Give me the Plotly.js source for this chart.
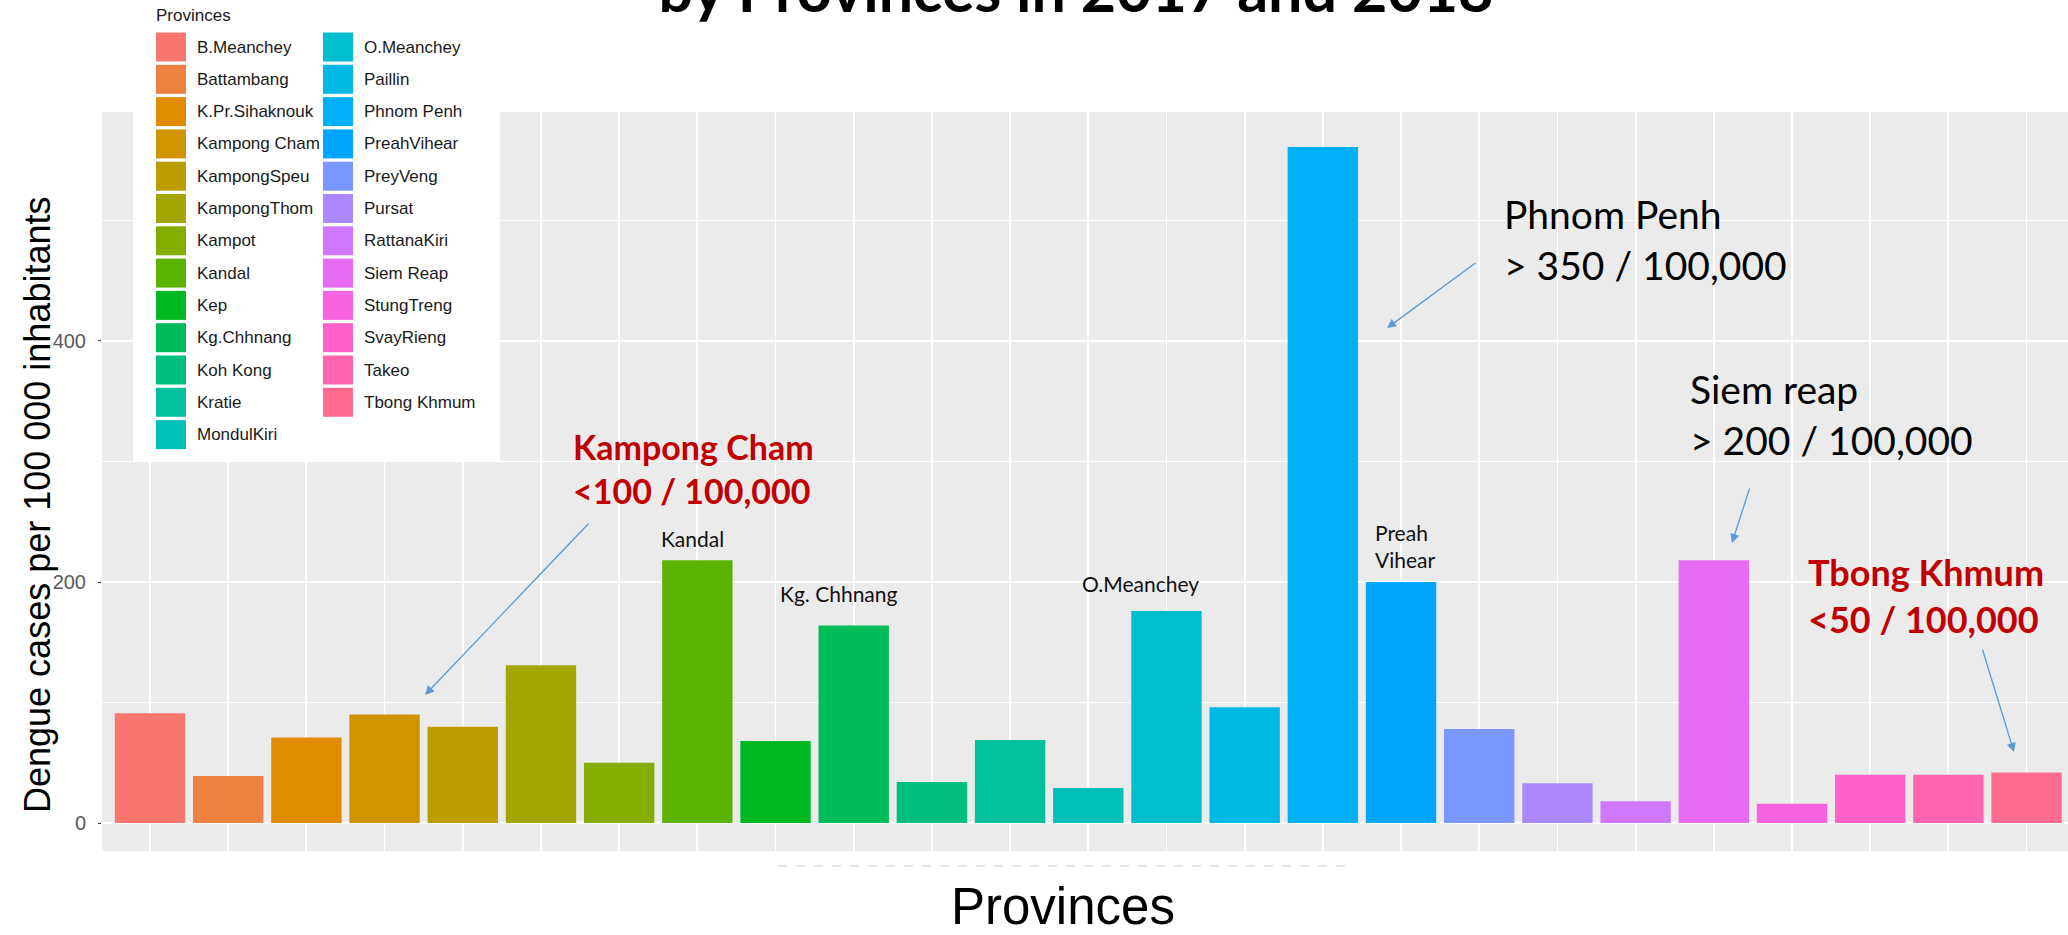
<!DOCTYPE html>
<html>
<head>
<meta charset="utf-8">
<script src="https://cdn.plot.ly/plotly-3.0.1.min.js"></script>
<style>
  html, body { margin: 0; padding: 0; background: #ffffff; }
  #chart { width: 2068px; height: 935px; }
</style>
</head>
<body>
<div id="chart"></div>
<script>
// ---------------- DATA ----------------
const provinces = [
  'B.Meanchey', 'Battambang', 'K.Pr.Sihaknouk', 'Kampong Cham', 'KampongSpeu',
  'KampongThom', 'Kampot', 'Kandal', 'Kep', 'Kg.Chhnang', 'Koh Kong', 'Kratie',
  'MondulKiri', 'O.Meanchey', 'Paillin', 'Phnom Penh', 'PreahVihear', 'PreyVeng',
  'Pursat', 'RattanaKiri', 'Siem Reap', 'StungTreng', 'SvayRieng', 'Takeo', 'Tbong Khmum'
];
const casesPer100k = [
  91, 39, 71, 90, 80,
  131, 50, 218, 68, 164, 34, 69,
  29, 176, 96, 561, 200, 78,
  33, 18, 218, 16, 40, 40, 42
];
const yTickValues = [0, 200, 400];
const yTickLabels = ['0', '200', '400'];
const titleText = 'by Provinces in 2017 and 2018';
const xTitleText = 'Provinces';
const yTitleText = 'Dengue cases per 100 000 inhabitants';
const legendTitleText = 'Provinces';
const calloutTexts = [
  'Kampong Cham<br>&lt;100 / 100,000',
  'Tbong Khmum<br>&lt;50 / 100,000',
  'Phnom Penh<br>&gt; 350 / 100,000',
  'Siem reap<br>&gt; 200 / 100,000'
];
const barLabels = ['Kandal', 'Kg. Chhnang', 'O.Meanchey', 'Preah<br>Vihear'];

// ---------------- STYLE HELPERS ----------------
// ggplot2 default hue palette (hcl, c = 100, l = 65)
function hclHex(h, c, l) {
  const Xn = 95.047, Yn = 100, Zn = 108.883;
  const hr = h * Math.PI / 180;
  const U = c * Math.cos(hr), V = c * Math.sin(hr);
  const Y = l > 7.999592 ? Yn * Math.pow((l + 16) / 116, 3) : Yn * l / 903.3;
  const den = Xn + 15 * Yn + 3 * Zn;
  const un = 4 * Xn / den, vn = 9 * Yn / den;
  const u = U / (13 * l) + un, v = V / (13 * l) + vn;
  const X = 9 * Y * u / (4 * v);
  const Z = -X / 3 - 5 * Y + 3 * Y / v;
  const x = X / 100, y = Y / 100, z = Z / 100;
  const lin = [
     3.240479 * x - 1.537150 * y - 0.498535 * z,
    -0.969256 * x + 1.875992 * y + 0.041556 * z,
     0.055648 * x - 0.204043 * y + 1.057311 * z
  ];
  return '#' + lin.map(t => {
    let g = t > 0.00304 ? 1.055 * Math.pow(t, 1 / 2.4) - 0.055 : 12.92 * t;
    g = Math.max(0, Math.min(1, g));
    return Math.round(g * 255).toString(16).padStart(2, '0');
  }).join('');
}
const nCat = provinces.length;
const barColors = provinces.map((_, i) => hclHex(15 + i * 360 / nCat, 100, 65));

// pixel -> paper conversions for the plot panel
const W = 2068, H = 935, ML = 102, MR = 0, MT = 112, MB = 84;
const PW = W - ML - MR, PH = H - MT - MB;
const px = x => (x - ML) / PW;
const py = y => (H - MB - y) / PH;

const annFont = 'Lato, "Open Sans", sans-serif';
const axFont = '"Liberation Sans", Arial, sans-serif';

// ---------------- TRACE ----------------
const trace = {
  type: 'bar',
  x: provinces,
  y: casesPer100k,
  width: 0.9,
  marker: { color: barColors, line: { width: 0 } },
  showlegend: false,
  hoverinfo: 'x+y'
};

// ---------------- LEGEND (drawn manually, ggplot style) ----------------
const shapes = [];
const annotations = [];
shapes.push({
  type: 'rect', xref: 'paper', yref: 'paper', layer: 'above',
  x0: px(133), x1: px(500), y0: py(462), y1: py(-10),
  fillcolor: '#ffffff', line: { width: 0 }
});
annotations.push({
  xref: 'paper', yref: 'paper', x: px(154), y: py(15),
  xanchor: 'left', yanchor: 'middle', showarrow: false,
  text: legendTitleText, font: { family: axFont, size: 17, color: '#1a1a1a' }
});
const perCol = 13;
provinces.forEach((p, i) => {
  const col = Math.floor(i / perCol), row = i % perCol;
  const cy = 47 + row * 32.3;
  const sx = col === 0 ? 156 : 323;
  const tx = col === 0 ? 195 : 362;
  shapes.push({
    type: 'rect', xref: 'paper', yref: 'paper', layer: 'above',
    x0: px(sx), x1: px(sx + 30), y0: py(cy + 14.5), y1: py(cy - 14.5),
    fillcolor: barColors[i], line: { width: 0 }
  });
  annotations.push({
    xref: 'paper', yref: 'paper', x: px(tx), y: py(cy),
    xanchor: 'left', yanchor: 'middle', showarrow: false,
    text: p, font: { family: axFont, size: 17, color: '#1a1a1a' }
  });
});

// faint dashed remnant under the panel
shapes.push({
  type: 'line', xref: 'paper', yref: 'paper', layer: 'above',
  x0: px(778), x1: px(1352), y0: py(866), y1: py(866),
  line: { color: '#dedede', width: 1.5, dash: 'dash' }
});

// ---------------- AXIS TITLES ----------------
annotations.push({
  xref: 'paper', yref: 'paper', x: px(1063), y: py(906),
  xanchor: 'center', yanchor: 'middle', showarrow: false,
  text: xTitleText, font: { family: axFont, size: 51, color: '#000000' }
});
annotations.push({
  xref: 'paper', yref: 'paper', x: px(37), y: py(505),
  xanchor: 'center', yanchor: 'middle', showarrow: false, textangle: -90,
  text: yTitleText, font: { family: axFont, size: 36, color: '#000000' }
});

// ---------------- CALLOUTS ----------------
const red = '#C00000';
annotations.push({
  xref: 'paper', yref: 'paper', x: px(571), y: py(468), xanchor: 'left', yanchor: 'middle',
  align: 'left', showarrow: false, text: '<b>' + calloutTexts[0] + '</b>',
  font: { family: annFont, size: 34, color: red }
});
annotations.push({
  xref: 'paper', yref: 'paper', x: px(1806), y: py(595), xanchor: 'left', yanchor: 'middle',
  align: 'left', showarrow: false, text: '<b>' + calloutTexts[1] + '</b>',
  font: { family: annFont, size: 36, color: red }
});
annotations.push({
  xref: 'paper', yref: 'paper', x: px(1502), y: py(239), xanchor: 'left', yanchor: 'middle',
  align: 'left', showarrow: false, text: calloutTexts[2],
  font: { family: annFont, size: 39, color: '#000000' }
});
annotations.push({
  xref: 'paper', yref: 'paper', x: px(1688), y: py(414), xanchor: 'left', yanchor: 'middle',
  align: 'left', showarrow: false, text: calloutTexts[3],
  font: { family: annFont, size: 39, color: '#000000' }
});
const smallFont = { family: annFont, size: 21, color: '#111111' };
annotations.push({ xref: 'paper', yref: 'paper', x: px(692), y: py(538), xanchor: 'center', yanchor: 'middle', showarrow: false, text: barLabels[0], font: smallFont });
annotations.push({ xref: 'paper', yref: 'paper', x: px(839), y: py(593), xanchor: 'center', yanchor: 'middle', showarrow: false, text: barLabels[1], font: smallFont });
annotations.push({ xref: 'paper', yref: 'paper', x: px(1140), y: py(583), xanchor: 'center', yanchor: 'middle', showarrow: false, text: barLabels[2], font: smallFont });
annotations.push({ xref: 'paper', yref: 'paper', x: px(1373), y: py(546), xanchor: 'left', yanchor: 'middle', align: 'left', showarrow: false, text: barLabels[3], font: smallFont });

// arrows: [tailX, tailY, headX, headY] in pixels
const arrows = [
  [590, 522, 425, 695],
  [1477, 262, 1387, 328],
  [1750, 487, 1732, 543],
  [1982, 648, 2014, 752]
];
arrows.forEach(a => {
  annotations.push({
    xref: 'paper', yref: 'paper', x: px(a[2]), y: py(a[3]),
    ax: a[0] - a[2], ay: a[1] - a[3], text: '', showarrow: true,
    arrowhead: 2, arrowsize: 1.4, arrowwidth: 1.3, arrowcolor: '#5B9BD5', standoff: 0
  });
});

// ---------------- LAYOUT ----------------
const layout = {
  width: W, height: H,
  margin: { l: ML, r: MR, t: MT, b: MB, pad: 0 },
  paper_bgcolor: '#ffffff',
  plot_bgcolor: '#EBEBEB',
  title: {
    text: '<b>' + titleText + '</b>',
    xref: 'container', yref: 'container',
    x: 1076 / W, xanchor: 'center',
    y: 1 - 12 / H, yanchor: 'bottom',
    font: { family: annFont, size: 61, color: '#000000' }
  },
  xaxis: {
    type: 'category',
    categoryorder: 'array', categoryarray: provinces,
    range: [-0.614, 24.53],
    tickmode: 'linear', tick0: 0, dtick: 1,
    showticklabels: false, ticks: '',
    showgrid: true, gridcolor: '#ffffff', gridwidth: 1.8,
    zeroline: false, showline: false, fixedrange: true
  },
  yaxis: {
    range: [-23.2, 590],
    tickmode: 'array', tickvals: yTickValues, ticktext: yTickLabels,
    ticks: 'outside', ticklen: 3, tickwidth: 1, tickcolor: '#333333',
    ticklabelstandoff: 8,
    tickfont: { family: axFont, size: 20, color: '#5a5a5a' },
    showgrid: true, gridcolor: '#ffffff', gridwidth: 2,
    minor: { tickmode: 'linear', tick0: 0, dtick: 100, showgrid: true, gridcolor: '#ffffff', gridwidth: 1, ticks: '' },
    zeroline: false, showline: false, fixedrange: true
  },
  bargap: 0.1,
  shapes: shapes,
  annotations: annotations,
  showlegend: false
};

Plotly.newPlot('chart', [trace], layout, { displayModeBar: false, staticPlot: true });
</script>
</body>
</html>
